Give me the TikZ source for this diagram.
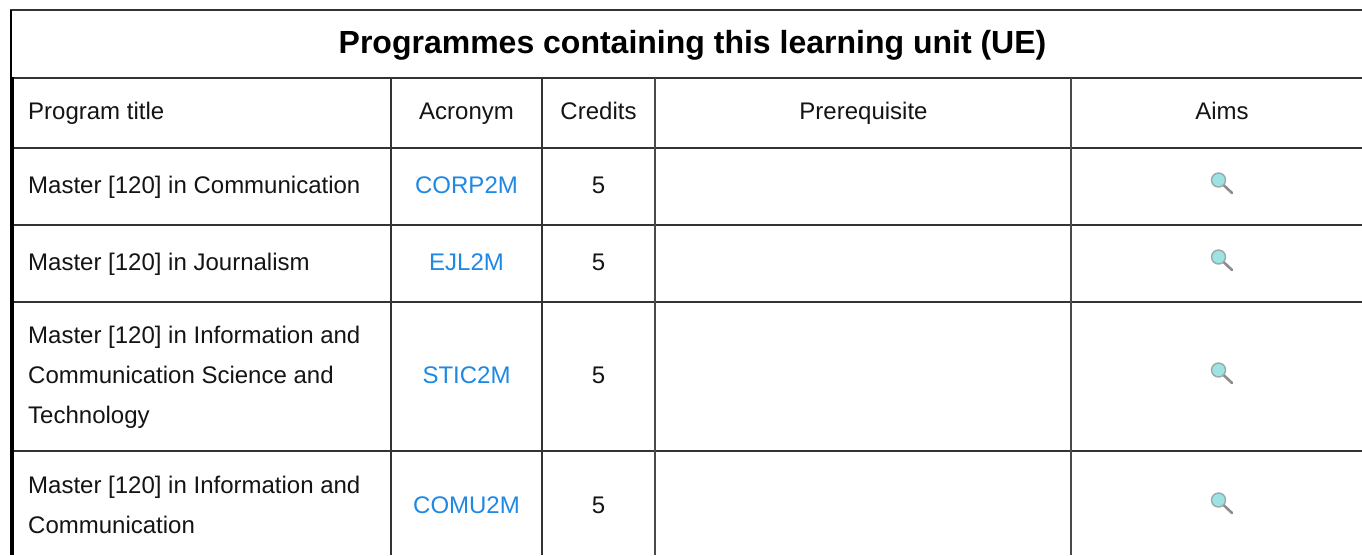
\documentclass[tikz,border=0pt]{standalone}
\usepackage{fontspec}
\setmainfont{Liberation Sans}
\definecolor{linkblue}{HTML}{1E88E5}
\definecolor{rule}{HTML}{333333}
\definecolor{softrule}{HTML}{4A4A4A}
\definecolor{lensfill}{HTML}{9CE3E1}
\definecolor{lensrim}{HTML}{9AA8AA}
\tikzset{
  x=1pt,y=-1pt,
  hline/.style={draw=rule,line width=2.2pt},
  vline/.style={draw=rule,line width=2pt},
  softvline/.style={draw=softrule,line width=2pt},
  edge/.style={draw=black,line width=3.6pt},
  body/.style={font=\fontsize{24}{40}\selectfont,text=black!92,inner sep=0pt},
  left cell/.style={body,anchor=base west,align=left},
  mid cell/.style={body,anchor=base},
  linkcell/.style={mid cell,text=linkblue},
  heading/.style={font=\bfseries\fontsize{32}{36}\selectfont,text=black,inner sep=0pt,anchor=base}
}
\newcommand{\lens}[2]{%
  \begin{scope}[shift={(#1,#2)}]
    \draw[draw=black!45,line width=2.6pt,line cap=round] (5,5) -- (13.5,13);
    \fill[fill=lensfill,draw=lensrim,line width=1.4pt] (0,0) circle (7pt);
  \end{scope}}
\begin{document}
\begin{tikzpicture}
\useasboundingbox[fill=white] (0,0) rectangle (1362,555);
% rules
\draw[hline] (10,10) -- (1362,10);
\draw[hline] (12,78) -- (1362,78);
\draw[hline] (12,148) -- (1362,148);
\draw[hline] (12,225) -- (1362,225);
\draw[hline] (12,302) -- (1362,302);
\draw[hline] (12,451) -- (1362,451);
\draw[hline,draw=black] (11.2,10) -- (11.2,78);
\draw[edge] (12,77) -- (12,555);
\foreach \xx in {391,542}{\draw[vline] (\xx,78) -- (\xx,555);}
\foreach \xx in {655,1071}{\draw[softvline] (\xx,78) -- (\xx,555);}
% texts
\node[heading] (title) at (692.5,53.5) {Programmes containing this learning unit (UE)};
\node[left cell] (h1) at (28,119) {Program title};
\node[mid cell] (h2) at (466.5,119) {Acronym};
\node[mid cell] (h3) at (598.5,119) {Credits};
\node[mid cell] (h4) at (863.5,119) {Prerequisite};
\node[mid cell] (h5) at (1222,119) {Aims};
\node[left cell] (a1) at (28,193) {Master [120] in Communication};
\node[linkcell] (a2) at (466.5,193) {CORP2M};
\node[mid cell] (a3) at (598.5,193) {5};
\node[left cell] (b1) at (28,270) {Master [120] in Journalism};
\node[linkcell] (b2) at (466.5,270) {EJL2M};
\node[mid cell] (b3) at (598.5,270) {5};
\node[left cell] (c1) at (28,423) {Master [120] in Information and\\Communication Science and\\Technology};
\node[linkcell] (c2) at (466.5,383) {STIC2M};
\node[mid cell] (c3) at (598.5,383) {5};
\node[left cell] (d1) at (28,533) {Master [120] in Information and\\Communication};
\node[linkcell] (d2) at (466.5,513) {COMU2M};
\node[mid cell] (d3) at (598.5,513) {5};
\lens{1218.5}{180}
\lens{1218.5}{257}
\lens{1218.5}{370}
\lens{1218.5}{500}
\end{tikzpicture}
\end{document}
